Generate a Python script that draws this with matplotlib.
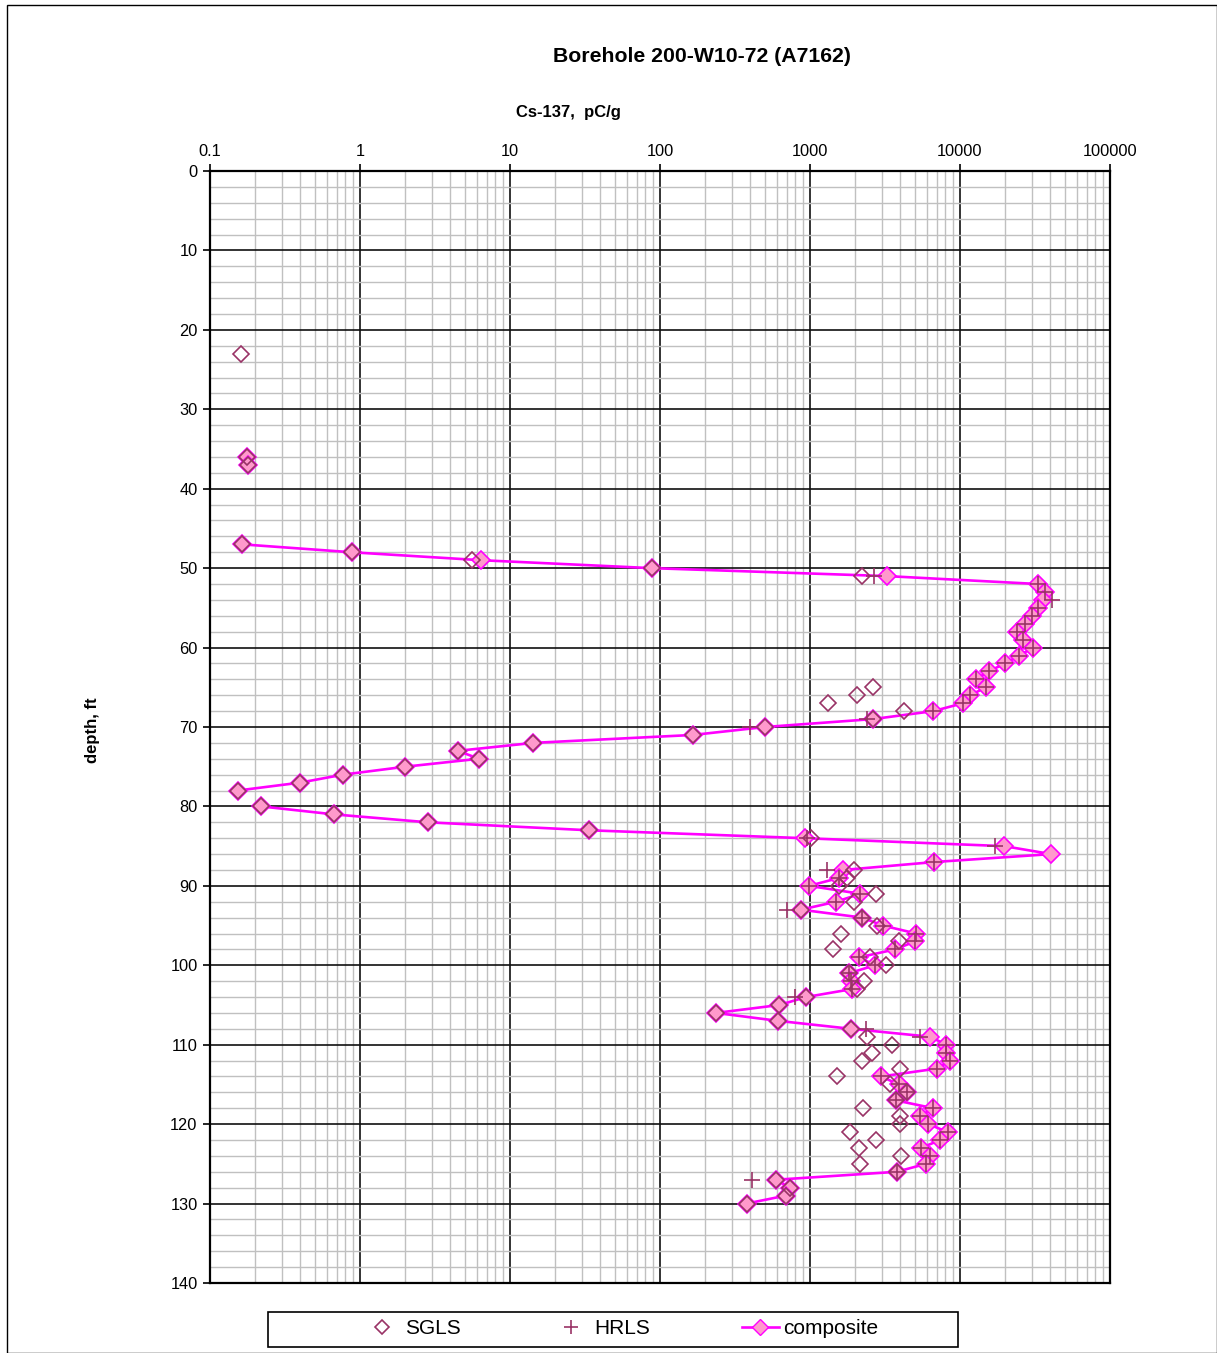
import numpy as np
import matplotlib.pyplot as plt
from matplotlib.ticker import LogLocator, MultipleLocator, FixedLocator, NullFormatter
from matplotlib.patches import Rectangle
from matplotlib.lines import Line2D

plt.rcParams['font.family'] = ['Liberation Sans', 'DejaVu Sans']

# SGLS readings (open diamonds)
sgls_depth = [23, 36, 37, 47, 48, 49, 50, 51, 65, 66, 67, 68, 69, 70,
              71, 72, 73, 74, 75, 76, 77, 78, 80, 81, 82, 83, 84,
              88, 89, 90, 91, 92, 93, 94, 95, 96, 97, 98, 99, 100, 101, 102, 103,
              104, 105, 106, 107, 108, 109, 110, 111, 112, 113, 114, 115, 116, 117,
              118, 119, 120, 121, 122, 123, 124, 125, 126, 127, 128, 129, 130]
sgls_val = [0.160, 0.177, 0.179, 0.163, 0.88, 5.56, 88, 2233, 2644, 2048, 1325, 4236, 2644, 501,
            166, 14.3, 4.5, 6.2, 2.0, 0.77, 0.40, 0.153, 0.22, 0.67, 2.84, 33.4, 1020,
            1950, 1756, 1560, 2740, 1970, 870, 2235, 2780, 1620, 3900, 1430, 2512, 3210, 1820, 2280, 2050,
            940, 625, 236, 615, 1877, 2400, 3540, 2578, 2210, 3980, 1505, 3415, 4455, 3727,
            2268, 3980, 3980, 1862, 2742, 2123, 4025, 2154, 3780, 593, 736, 689, 378]

# HRLS readings (plus signs)
hrls_depth = [51, 52, 53, 54, 55, 56, 57, 58, 59, 60, 61, 62, 63, 64, 65, 66, 67, 68, 69, 70,
              84, 85, 87, 88, 89, 90, 91, 92, 93, 94, 95, 96, 97, 98, 99, 100, 101, 102, 103, 104,
              108, 109, 110, 111, 112, 113, 114, 115, 116, 117, 118, 119, 120, 121, 122, 123, 124,
              125, 126, 127]
hrls_val = [2670, 33300, 36900, 40800, 33300, 30100, 27100, 23900, 26400, 30800, 24900, 20000,
            15500, 12800, 14900, 11700, 10500, 6640, 2400, 398,
            950, 17100, 6740, 1300, 1565, 985, 2170, 1490, 706, 2235, 3060, 5110, 5010, 3690,
            2123, 2712, 1820, 1870, 1900, 790,
            2370, 5450, 8070, 8070, 8580, 7060, 2970, 3920, 4455, 3727, 6640, 5420, 6160, 8280,
            7360, 5500, 6310, 5930, 3780, 408]

# composite log (nan breaks the line where no data)
comp_depth = [36, 37, 38, 47, 48, 49, 50, 51, 52, 53, 54, 55, 56, 57, 58, 59, 60, 61, 62, 63,
              64, 65, 66, 67, 68, 69, 70, 71, 72, 73, 74, 75, 76, 77, 78, 79, 80, 81, 82, 83,
              84, 85, 86, 87, 88, 89, 90, 91, 92, 93, 94, 95, 96, 97, 98, 99, 100, 101, 102,
              103, 104, 105, 106, 107, 108, 109, 110, 111, 112, 113, 114, 115, 116, 117, 118,
              119, 120, 121, 122, 123, 124, 125, 126, 127, 128, 129, 130]
comp_val = [0.177, 0.179, np.nan, 0.163, 0.88, 6.4, 88, 3245, 33300, 36900, 35900, 33300, 30100,
            27100, 23900, 26400, 30800, 24900, 20000, 15500, 12800, 14900, 11700, 10500, 6640,
            2640, 501, 166, 14.3, 4.5, 6.2, 2.0, 0.77, 0.40, 0.153, np.nan, 0.22, 0.67, 2.84,
            33.4, 920, 19700, 40500, 6740, 1670, 1565, 985, 2170, 1490, 870, 2235, 3060, 5110,
            5010, 3690, 2123, 2712, 1820, 1870, 1900, 940, 625, 236, 615, 1877, 6350, 8070,
            8070, 8580, 7060, 2970, 3920, 4455, 3727, 6640, 5420, 6160, 8280, 7360, 5500, 6310,
            5930, 3780, 593, 736, 689, 378]

x_ticks = [0.1, 1, 10, 100, 1000, 10000, 100000]
x_labels = ['0.1', '1', '10', '100', '1000', '10000', '100000']

W, H = 1217, 1353
fig = plt.figure(figsize=(W / 100, H / 100), dpi=100)
fig.patches.append(Rectangle((7 / W, 0), 1 - 7 / W, 1 - 5 / H, transform=fig.transFigure,
                             fill=False, edgecolor='black', linewidth=1.0))

ax = fig.add_axes([210 / W, (H - 1283) / H, 900 / W, 1112 / H])

maroon = '#993366'
ax.plot(comp_val, comp_depth, color='#ff00ff', linewidth=1.9, marker='D', markersize=9,
        markerfacecolor='#ff99cc', markeredgecolor='#ff00ff', markeredgewidth=1.2, zorder=3)
ax.plot(sgls_val, sgls_depth, linestyle='none', marker='D', markersize=8,
        markerfacecolor='none', markeredgecolor=maroon, markeredgewidth=1.2, zorder=4)
ax.plot(hrls_val, hrls_depth, linestyle='none', marker='+', markersize=12,
        color=maroon, markeredgewidth=1.2, zorder=5)

ax.set_xscale('log')
ax.set_xlim(0.1, 100000)
ax.set_ylim(140, 0)
ax.xaxis.tick_top()
ax.xaxis.set_major_locator(FixedLocator(x_ticks))
ax.set_xticklabels(x_labels)
ax.xaxis.set_minor_locator(LogLocator(base=10, subs=np.arange(2, 10)))
ax.xaxis.set_minor_formatter(NullFormatter())
ax.yaxis.set_major_locator(MultipleLocator(10))
ax.yaxis.set_minor_locator(MultipleLocator(2))

ax.tick_params(which='major', direction='out', length=5, width=1.2, labelsize=11.8, pad=4)
ax.tick_params(which='minor', length=0)
ax.grid(which='minor', color='#c0c0c0', linewidth=1.0, zorder=0)
ax.grid(which='major', color='#101010', linewidth=1.2, zorder=1)
ax.set_axisbelow(True)
for s in ax.spines.values():
    s.set_linewidth(1.6)

fig.text(702 / W, 1 - 56 / H, 'Borehole 200-W10-72 (A7162)', ha='center', va='center',
         fontsize=15.3, fontweight='bold')
fig.text(568 / W, 1 - 113 / H, 'Cs-137,  pC/g', ha='center', va='center',
         fontsize=12, fontweight='bold')
fig.text(93 / W, 1 - 730 / H, 'depth, ft', ha='center', va='center', rotation=90,
         fontsize=12, fontweight='bold')

# legend box
fig.patches.append(Rectangle((268 / W, (H - 1347) / H), 690 / W, 35 / H, transform=fig.transFigure,
                             fill=False, edgecolor='black', linewidth=1.2))
handles = [
    Line2D([], [], linestyle='none', marker='D', markersize=7, markerfacecolor='none',
           markeredgecolor=maroon, markeredgewidth=1.2),
    Line2D([], [], linestyle='none', marker='+', markersize=10, color=maroon, markeredgewidth=1.2),
    Line2D([], [], color='#ff00ff', linewidth=1.9, marker='D', markersize=8,
           markerfacecolor='#ff99cc', markeredgecolor='#ff00ff'),
]
fig.legend(handles, ['SGLS', 'HRLS', 'composite'], loc='center', ncol=3, frameon=False,
           bbox_to_anchor=(621 / W, 1 - 1329 / H), fontsize=15, columnspacing=4.4,
           handlelength=1.8, handletextpad=0.2)

fig.savefig('out.png', dpi=100)
